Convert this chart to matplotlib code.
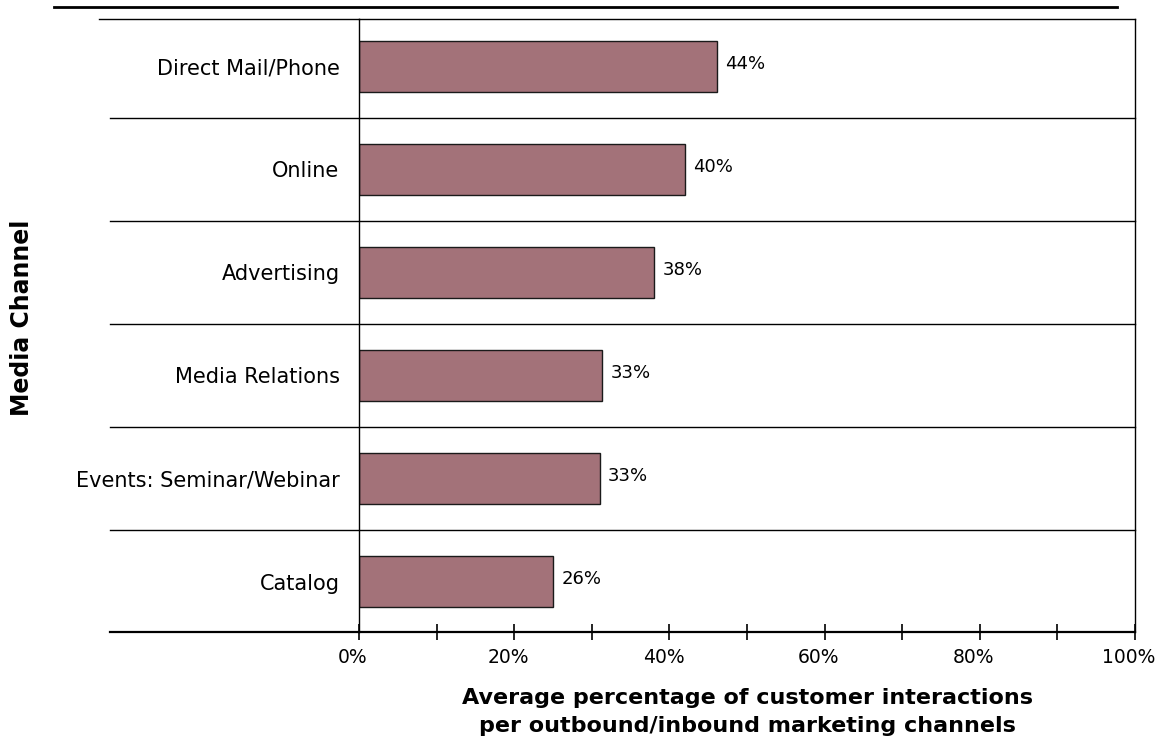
import matplotlib.pyplot as plt
from matplotlib.transforms import ScaledTranslation, blended_transform_factory

CHANNELS = [
    'Direct Mail/Phone',
    'Online',
    'Advertising',
    'Media Relations',
    'Events: Seminar/Webinar',
    'Catalog'
]

# bar lengths as drawn (they don't quite match the printed labels)
BAR_VALUES = [46.1, 42.0, 38.0, 31.3, 31.0, 25.0]
VALUE_LABELS = ['44%', '40%', '38%', '33%', '33%', '26%']

MAJOR_TICKS = [0, 20, 40, 60, 80, 100]
MINOR_TICKS = [10, 30, 50, 70, 90]
TICK_LABELS = ['0%', '20%', '40%', '60%', '80%', '100%']

BAR_COLOUR = '#A37279'
EDGE_COLOUR = '#1a1a1a'

plt.rcParams['font.family'] = ['DejaVu Sans']

fig = plt.figure(figsize=(11.61, 7.44), dpi=100)
ax = fig.add_axes([0.3092, 0.1505, 0.6684, 0.824])

positions = list(range(len(CHANNELS)))[::-1]

ax.barh(
    positions,
    BAR_VALUES,
    height=0.5,
    color=BAR_COLOUR,
    edgecolor=EDGE_COLOUR,
    linewidth=1.0
)

for pos, val, lab in zip(positions, BAR_VALUES, VALUE_LABELS):
    ax.annotate(
        lab, xy=(val, pos), xytext=(6, 2), textcoords='offset points',
        ha='left', va='center', fontsize=13
    )

ax.set_xlim(0, 100)
ax.set_ylim(-0.49, 5.46)

ax.set_xticks(MAJOR_TICKS)
ax.set_xticklabels(TICK_LABELS, fontsize=13.5)
ax.set_xticks(MINOR_TICKS, minor=True)
ax.tick_params(axis='x', which='both', direction='inout', length=11,
               width=1.2, color='black', pad=6)

shift = ScaledTranslation(-6 / 100, 0, fig.dpi_scale_trans)
for label in ax.get_xticklabels():
    label.set_transform(label.get_transform() + shift)

ax.set_yticks(positions)
ax.set_yticklabels(CHANNELS, fontsize=15)
ax.tick_params(axis='y', length=0, pad=14)

for side in ['top', 'right', 'left']:
    ax.spines[side].set_linewidth(1.0)
ax.spines['bottom'].set_linewidth(1.6)

# row separators, running out past the axis into the label area
trans = blended_transform_factory(ax.transAxes, ax.transData)
for b in [0.5, 1.5, 2.5, 3.5, 4.5]:
    ax.plot([-0.321, 1], [b, b], transform=trans, color='black',
            linewidth=1.0, clip_on=False)
ax.plot([-0.335, 0], [1, 1], transform=ax.transAxes, color='black',
        linewidth=1.0, clip_on=False)
ax.plot([-0.321, 0], [0, 0], transform=ax.transAxes, color='black',
        linewidth=1.6, clip_on=False)

# heavy rule across the top
fig.add_artist(plt.Line2D([54 / 1161, 1117 / 1161], [1 - 7 / 744, 1 - 7 / 744],
                          color='black', linewidth=2.0))

fig.text(22 / 1161, 1 - 318 / 744, 'Media Channel', rotation=90,
         ha='center', va='center', fontsize=17, fontweight='bold')

fig.text(747 / 1161, 1 - 712 / 744,
         'Average percentage of customer interactions\n'
         'per outbound/inbound marketing channels',
         ha='center', va='center', multialignment='center',
         fontsize=16, fontweight='bold', linespacing=1.55)

plt.savefig('out.png', dpi=100)
